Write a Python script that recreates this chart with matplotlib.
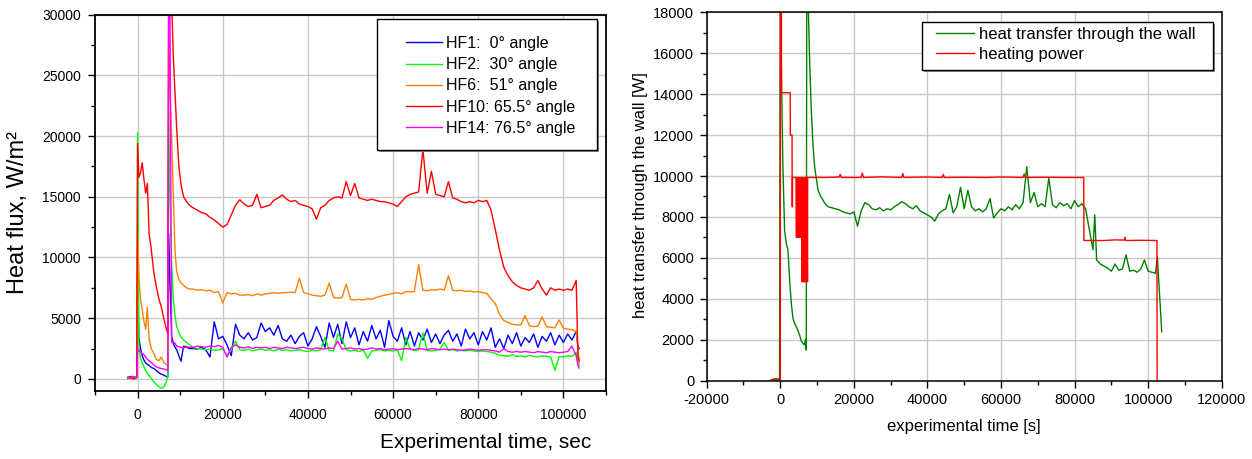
import matplotlib
matplotlib.use("Agg")
import matplotlib.pyplot as plt
from matplotlib.ticker import MultipleLocator
from matplotlib.patches import Rectangle

plt.rcParams['font.family'] = ['Liberation Sans', 'DejaVu Sans']
plt.rcParams['axes.unicode_minus'] = False

# ---------------- Left chart data (heat flux, W/m2) ----------------
time_s = [-2300, -1600, -900, -200, 0, 300, 700, 1100, 1500, 1900,
          2300, 2700, 3200, 3800, 4400, 5000, 5600, 6200, 6700, 7100,
          7300, 7600, 8000, 8400, 8800, 9200, 9700, 10200, 10800, 11500,
          12200,
          13000, 14000, 15000, 16000, 17000, 18000, 19000, 20000, 21000, 22000,
          23000, 24000, 25000, 26000, 27000, 28000, 29000, 30000, 31000, 32000,
          33000, 34000, 35000, 36000, 37000, 38000, 39000, 40000, 41000, 42000,
          43000, 44000, 45000, 46000, 47000, 48000, 49000, 50000, 51000, 52000,
          53000, 54000, 55000, 56000, 57000, 58000, 59000, 60000, 61000, 62000,
          63000, 64000, 65000, 66000, 67000, 68000, 69000, 70000, 71000, 72000,
          73000, 74000, 75000, 76000, 77000, 78000, 79000, 80000, 81000, 82000,
          83000, 84000, 85000, 86000, 87000, 88000, 89000, 90000, 91000, 92000,
          93000, 94000, 95000, 96000, 97000, 98000, 99000, 100000, 101000, 102000,
          103000, 103400, 103700]

hf1 = [100, 200, 50, 150, 9000, 3400, 2500, 1900, 1550, 1300,
       1200, 1100, 950, 850, 700, 500, 380, 300, 200, 150,
       12000, 8000, 3500, 2900, 2600, 2400, 1900, 1450, 2700, 2600,
       2500,
       2500, 2450, 2600, 2400, 1800, 4700, 3300, 3500, 2800, 1900,
       4500, 3600, 3300, 3800, 3200, 3400, 4600, 3900, 4200, 3600,
       4400, 3300, 3100, 3600, 2900, 3500, 3800, 2700, 3300, 4300,
       3500, 2600, 4600, 3400, 4500, 2900, 4700, 3400, 4200, 2800,
       3900, 3100, 4400, 3300, 4000, 2600, 4800, 3500, 3100, 4200,
       2800, 3900, 2700, 3800, 3200, 4100, 3000, 3700, 2900, 3600,
       4000, 3100, 3700, 2700, 4100, 3300, 3800, 2800, 3900, 3200,
       4200, 2600, 3300, 2500, 3600, 2900, 3800, 2700, 3400, 3000,
       3700, 2600, 3500, 3100, 3800, 2800, 3600, 3000, 3700, 3200,
       3900, 2700, 2500]

hf2 = [0, 100, -50, 50, 20300, 2600, 1700, 1300, 1000, 700,
       450, 250, 50, -250, -450, -650, -780, -650, -300, 200,
       22000, 15000, 9500, 6500, 5200, 4300, 3800, 3450, 3200, 3000,
       2800,
       2600, 2500, 2450, 2400, 2450, 2350, 2400, 2500, 1900, 2450,
       3100, 2400, 2350, 2450, 2300, 2400, 2450, 2350, 2400, 2300,
       2450, 2350, 2400, 2300, 2350, 2400, 2300, 2250, 2350, 2300,
       2400, 3400, 2350, 2300, 3700, 3300, 2400, 2300, 2350, 2250,
       2400, 1700, 2300, 2350, 2400, 2300, 2350, 2300, 2400, 1500,
       3400, 2450, 2350, 2400, 3800, 2350, 2300, 2350, 2450, 3000,
       2350, 2400, 2300, 2350, 2300, 2350, 2300, 2250, 2300, 2250,
       2200, 2100, 1950, 1900, 1850, 2000, 1850, 1900, 1800, 1950,
       1850, 1800, 1900, 1850, 1800, 700, 1850, 1800, 1900, 1850,
       2200, 1500, 1100]

hf6 = [100, 50, 150, 100, 12000, 8500, 6500, 5700, 4700, 4100,
       5900, 3300, 2500, 2100, 1600, 1500, 1800, 1300, 1200, 1100,
       28000, 24000, 20000, 15000, 10500, 8800, 8200, 7900, 7700, 7500,
       7400,
       7400, 7300, 7350, 7250, 7300, 7100, 7200, 6250, 7100, 7000,
       7050, 6900, 6900, 6950, 6850, 7000, 6900, 7000, 7050, 7100,
       7050, 7100, 7100, 7150, 7100, 8300, 7100, 7000, 6900, 6850,
       6800, 6900, 7900, 6700, 6650, 6700, 7800, 6550, 6500, 6550,
       6500, 6600, 6550, 6700, 6800, 6900, 6950, 7050, 7100, 7000,
       7200, 7150, 7200, 9400, 7300, 7250, 7350, 7300, 7400, 7300,
       8500, 7300, 7250, 7300, 7200, 7250, 7150, 7200, 7100, 7050,
       6600, 6200, 5300, 4800, 4650, 4500, 4450, 4450, 5200, 4400,
       4300, 4350, 5100, 4300, 4250, 4200, 4850, 4150, 4100, 4050,
       3900, 2600, 1300]

hf10 = [100, 200, 0, 150, 19400, 16600, 17000, 17800, 16400, 15300,
        16100, 12000, 10700, 8800, 7600, 6600, 5900, 4900, 4200, 3700,
        33000, 33000, 31000, 26500, 23500, 20500, 17500, 16000, 15000, 14600,
        14300,
        14100, 13900, 13700, 13600, 13300, 13100, 12800, 12500, 12700, 13500,
        14300, 14750, 14400, 14200, 14300, 15200, 14100, 14200, 14300, 14700,
        14900, 15150, 14800, 14600, 14700, 14400, 14300, 14200, 14000, 13150,
        14100, 14300, 14700, 14900, 15000, 14900, 16250, 15100, 16100, 14900,
        14800, 14700, 14800, 14700, 14600, 14600, 14500, 14400, 14200, 14600,
        15000, 15200, 15300, 15400, 18900, 15300, 17100, 15200, 15100, 15000,
        16250, 14900, 14800, 14600, 14500, 14600, 14500, 14700, 14600, 14700,
        13900, 12300, 10600, 9200, 8500, 8000, 7700, 7500, 7400, 7300,
        7500, 8100, 7400, 6900, 7500, 7300, 7400, 7300, 7400, 7300,
        8100, 1900, 1500]

hf14 = [150, 0, 200, 100, 2500, 2300, 2200, 2100, 2000, 1800,
        1600, 1500, 1350, 1150, 1000, 900, 850, 800, 750, 700,
        32000, 31000, 3000, 3100, 2900, 2700, 2650, 2600, 2550, 2650,
        2600,
        2600, 2700, 2650, 2600, 2700, 2650, 2750, 2600, 1800, 2600,
        2800, 2600, 2550, 2650, 2500, 2600, 2550, 2600, 2500, 2600,
        2550, 2500, 2600, 2550, 2500, 2550, 2600, 2500, 2450, 2550,
        2500, 2450, 2550, 2500, 3100, 2450, 2500, 2550, 2450, 2500,
        2400, 2450, 2550, 2450, 2500, 2400, 2450, 2500, 2400, 2450,
        2500, 2450, 2400, 2500, 2450, 2400, 2500, 2450, 2400, 2450,
        2400, 2450, 2400, 2350, 2400, 2450, 2400, 2350, 2400, 2400,
        2350, 2300, 2200, 2500, 2250, 2200, 2250, 2200, 2250, 2200,
        2150, 2250, 2200, 2150, 2250, 2200, 2150, 2200, 2250, 2700,
        1900, 1100, 900]

left_labels = ["HF1:  0\u00b0 angle", "HF2:  30\u00b0 angle", "HF6:  51\u00b0 angle",
               "HF10: 65.5\u00b0 angle", "HF14: 76.5\u00b0 angle"]
left_colors = ["#0000ff", "#00ff00", "#ff8000", "#ff0000", "#ff00ff"]

# ---------------- Right chart data (W) ----------------
wall_t = [-2400, -1500, -500, -200, 0, 400, 720, 1170, 1630, 2090,
          2540, 3000, 3450, 3900, 4350, 4800, 5250, 5700, 6150, 6500,
          6880, 7070, 7200, 7510, 8000, 8430, 8900, 9340, 10240, 11000,
          11600,
          12000, 13000, 14000, 15000, 16000, 17000, 18000, 19000, 20000, 21000,
          22000, 23000, 24000, 25000, 26000, 27000, 28000, 29000, 30000, 31000,
          32000, 33000, 34000, 35000, 36000, 37000, 38000, 39000, 40000, 41000,
          42000, 43000, 44000, 45000, 46000, 47000, 48000, 49000, 50000, 51000,
          52000, 53000, 54000, 55000, 56000, 57000, 58000, 59000, 60000, 61000,
          62000, 63000, 64000, 65000, 66000, 67000, 68000, 69000, 70000, 71000,
          72000, 73000, 74000, 75000, 76000, 77000, 78000, 79000, 80000, 81000,
          82000, 83000, 84000, 85000, 85500, 86000, 87000, 88000, 89000, 90000,
          91000, 92000, 93000, 94000, 95000, 96000, 97000, 98000, 99000, 100000,
          101000, 102000, 102500, 103200, 103700]
wall_w = [50, 100, 80, 120, 19000, 14000, 10460, 7360, 6710, 6390,
          4920, 3780, 3050, 2800, 2640, 2450, 2230, 1950, 1830, 1750,
          2020, 1500, 19000, 19000, 15500, 13230, 11500, 10460, 9320, 9000,
          8830,
          8700, 8500, 8450, 8400, 8350, 8250, 8200, 8150, 8250, 7550,
          8300, 8700, 8600, 8400, 8350, 8450, 8300, 8400, 8350, 8500,
          8600, 8750, 8650, 8500, 8400, 8550, 8300, 8200, 8100, 8000,
          7800, 8150, 8300, 8400, 9100, 8200, 8500, 9450, 8400, 9300,
          8500, 8300, 8400, 8250, 8400, 8900, 7950, 8200, 8400, 8300,
          8500, 8350, 8600, 8400, 8700, 10450, 8700, 9200, 8500, 8650,
          8500, 9900, 8600, 8450, 8700, 8550, 8650, 8400, 8800, 8500,
          8650, 8400, 7400, 6400, 8100, 5900, 5700, 5600, 5500, 5350,
          5700, 5400, 5450, 6150, 5350, 5400, 5300, 5450, 5900, 5350,
          5300, 5250, 6050, 3940, 2390]

power_t = [-2400, 0, 30, 300, 330, 2700, 2730, 3200, 3230, 3300,
           3330, 4300, 4400, 4450, 4550, 4600, 4700, 4750, 4850, 4900,
           5000, 5050, 5150, 5200, 5300, 5350, 5450, 5500, 5600, 5650,
           5750, 5800, 5900, 5950, 6050, 6100, 6200, 6250, 6350, 6400,
           6500, 6550, 6650, 6700, 6800, 6850, 6950, 7000, 7100, 7150,
           7250, 7300, 7400, 7450,
           12000, 16000, 16300, 16600, 22000, 22300, 22600, 27500, 33000, 33300,
           33600, 40000, 44000, 44300, 44600, 50000, 56000, 60000, 66000, 66300,
           66600, 72000, 77000, 82500, 82550, 88000, 91000, 93500, 93700, 93900,
           98000, 102400, 102450, 102550]
power_w = [50, 50, 18500, 18500, 14070, 14070, 12000, 12000, 8500, 8500,
           9930, 9930, 7000, 9930, 7050, 9930, 7000, 9930, 7000, 9930,
           7050, 9930, 7000, 9930, 7000, 9930, 7050, 9930, 7000, 9930,
           7000, 9930, 4840, 9930, 4840, 9930, 4840, 9930, 4840, 9930,
           4840, 9930, 4840, 9930, 4840, 9930, 4840, 9930, 4840, 9930,
           4840, 9930, 4840, 9930,
           9930, 9950, 10080, 9930, 9930, 10150, 9930, 9960, 9930, 10120,
           9930, 9950, 9930, 10080, 9930, 9940, 9930, 9950, 9930, 10100,
           9930, 9940, 9930, 9930, 6850, 6850, 6880, 6870, 7000, 6850,
           6860, 6850, 0, 0]

# ---------------- Figure ----------------
fig = plt.figure(figsize=(12.52, 4.59), dpi=100)
W, H = 1252.0, 459.0

def fx(px):
    return px / W

def fy(py):
    return 1 - py / H

axL = fig.add_axes([fx(95), fy(391), (606 - 95) / W, (391 - 14.7) / H])
axR = fig.add_axes([fx(706.7), fy(380.7), (1221.7 - 706.7) / W, (380.7 - 12.3) / H])

for series, col, lab in zip([hf1, hf2, hf6, hf10, hf14], left_colors, left_labels):
    axL.plot(time_s, series, color=col, lw=1.0, label=lab)

axL.set_xlim(-10000, 110000)
axL.set_ylim(-1000, 30000)
axL.xaxis.set_minor_locator(MultipleLocator(10000))
axL.yaxis.set_major_locator(MultipleLocator(5000))
axL.yaxis.set_minor_locator(MultipleLocator(2500))
axL.set_xticks([0, 20000, 40000, 60000, 80000, 100000])
axL.grid(True, which='major', color='#c8c8c8', lw=1.0)
axL.set_axisbelow(True)
axL.tick_params(which='major', direction='out', length=5, width=1.0, labelsize=10, pad=7)
axL.tick_params(axis='y', which='major', pad=5)
axL.tick_params(which='minor', direction='out', length=3, width=1.0)
for sp in axL.spines.values():
    sp.set_linewidth(1.3)


def legend_box(ax, x0, y0, x1, y1):
    shadow = Rectangle((fx(x0 + 2), fy(y1 + 2)), (x1 - x0) / W, (y1 - y0) / H,
                       transform=fig.transFigure, facecolor='0.55', edgecolor='none',
                       zorder=4.0, clip_on=False)
    box = Rectangle((fx(x0), fy(y1)), (x1 - x0) / W, (y1 - y0) / H,
                    transform=fig.transFigure, facecolor='white', edgecolor='black',
                    lw=1.0, zorder=4.1, clip_on=False)
    ax.add_patch(shadow)
    ax.add_patch(box)


legend_box(axL, 377, 19, 597, 150)
legL = axL.legend(loc='upper left', bbox_to_anchor=(fx(405.7), fy(36)),
                  bbox_transform=fig.transFigure, fontsize=11.5, frameon=False,
                  handlelength=2.25, handletextpad=0.27, labelspacing=0.39,
                  borderpad=0, borderaxespad=0)
legL.set_zorder(5)

fig.text(fx(18), fy(212), "Heat flux, W/m\u00b2", rotation=90,
         ha='center', va='center', fontsize=17)
fig.text(fx(486), fy(443), "Experimental time, sec", ha='center', va='center',
         fontsize=15)

# Right chart
axR.plot(wall_t, wall_w, color='#008000', lw=1.0, label='heat transfer through the wall')
axR.plot(power_t, power_w, color='#ff0000', lw=1.0, label='heating power')
axR.set_xlim(-20000, 120000)
axR.set_ylim(0, 18000)
axR.xaxis.set_major_locator(MultipleLocator(20000))
axR.xaxis.set_minor_locator(MultipleLocator(10000))
axR.yaxis.set_major_locator(MultipleLocator(2000))
axR.yaxis.set_minor_locator(MultipleLocator(1000))
axR.grid(True, which='major', color='#c8c8c8', lw=1.0)
axR.set_axisbelow(True)
axR.tick_params(which='major', direction='out', length=5, width=1.0, labelsize=10.5, pad=4)
axR.tick_params(which='minor', direction='out', length=3, width=1.0)
for sp in axR.spines.values():
    sp.set_linewidth(1.1)

legend_box(axR, 921.7, 21.7, 1212.7, 70)
legR = axR.legend(loc='upper left', bbox_to_anchor=(fx(936), fy(27.3)),
                  bbox_transform=fig.transFigure, fontsize=12, frameon=False,
                  handlelength=2.28, handletextpad=0.32, labelspacing=0.28,
                  borderpad=0, borderaxespad=0)
legR.set_zorder(5)

fig.text(fx(641), fy(195), "heat transfer through the wall [W]", rotation=90,
         ha='center', va='center', fontsize=12)
fig.text(fx(964), fy(427), "experimental time [s]", ha='center', va='center',
         fontsize=12)

fig.savefig("out.png", dpi=100)
